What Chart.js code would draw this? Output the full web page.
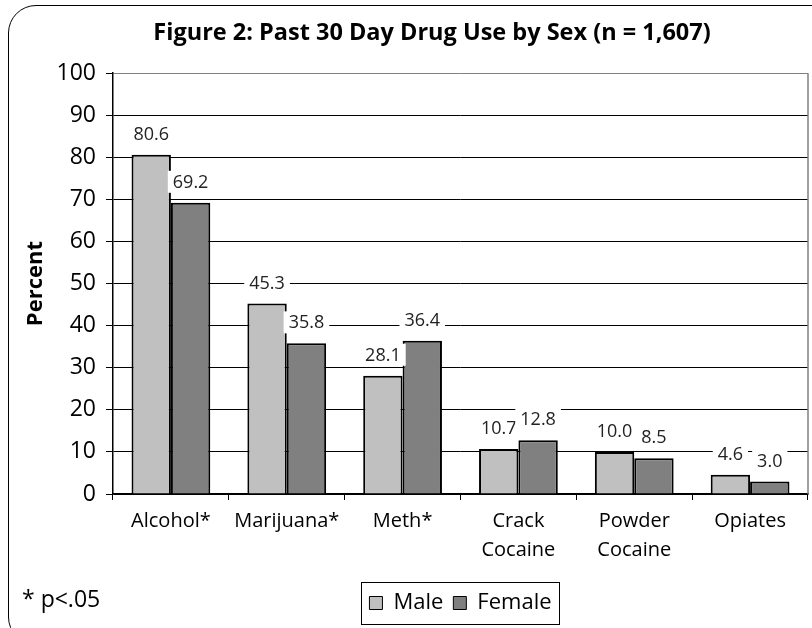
<!DOCTYPE html>
<html>
<head>
<meta charset="utf-8">
<script src="https://cdn.jsdelivr.net/npm/chart.js@4.4.0/dist/chart.umd.min.js"></script>
<style>
html, body { margin: 0; padding: 0; background: #fff; }
#wrap { position: relative; width: 812px; height: 628px; overflow: hidden; }
#frame { position: absolute; left: 8px; top: 5px; width: 840px; height: 640px; border: 1.5px solid #000; border-radius: 28px; box-sizing: border-box; }
#chart { position: absolute; left: 0; top: 0; }
</style>
</head>
<body>
<div id="wrap">
  <div id="frame"></div>
  <canvas id="chart" width="812" height="628"></canvas>
</div>
<script>
// 数据
const categories = ['Alcohol*', 'Marijuana*', 'Meth*', ['Crack', 'Cocaine'], ['Powder', 'Cocaine'], 'Opiates'];
const maleValues = [80.6, 45.3, 28.1, 10.7, 10.0, 4.6];
const femaleValues = [69.2, 35.8, 36.4, 12.8, 8.5, 3.0];
const yMin = 0;
const yMax = 100;
const yStep = 10;
const footnote = '* p<.05';

const FONT = '"Open Sans", "Noto Sans", sans-serif';

// 柱顶数值标签（白底）
const barLabelPlugin = {
    id: 'barLabels',
    afterDatasetsDraw(chart) {
        const ctx = chart.ctx;
        ctx.save();
        ctx.font = '18px ' + FONT;
        ctx.textAlign = 'center';
        ctx.textBaseline = 'middle';
        chart.data.datasets.forEach((ds, i) => {
            chart.getDatasetMeta(i).data.forEach((bar, j) => {
                const txt = ds.data[j].toFixed(1);
                const w = ctx.measureText(txt).width + 10;
                const y = bar.y - 20;
                ctx.fillStyle = '#fff';
                ctx.fillRect(bar.x - w / 2, y - 12, w, 22);
                ctx.fillStyle = '#222';
                ctx.fillText(txt, bar.x, y);
            });
        });
        ctx.restore();
    }
};

// 标题/图例位置微调、绘图区右边框、图例边框、脚注
const framePlugin = {
    id: 'frameBits',
    afterLayout(chart) {
        const ca = chart.chartArea;
        const lg = chart.legend;
        if (lg && ca) {
            lg.left = ca.left;
            lg.right = ca.right;
            lg.width = ca.right - ca.left;
        }
        const tb = chart.titleBlock;
        if (tb && ca) {
            tb.left = 56;
            tb.right = ca.right;
            tb.width = tb.right - tb.left;
        }
    },
    beforeDatasetsDraw(chart) {
        const { ctx, chartArea } = chart;
        ctx.save();
        ctx.strokeStyle = '#808080';
        ctx.lineWidth = 1.5;
        ctx.beginPath();
        ctx.moveTo(chartArea.right, chartArea.top);
        ctx.lineTo(chartArea.right, chartArea.bottom);
        ctx.stroke();
        ctx.restore();
    },
    afterDraw(chart) {
        const ctx = chart.ctx;
        const boxes = chart.legend.legendHitBoxes;
        if (boxes && boxes.length) {
            const left = Math.min(...boxes.map(b => b.left)) - 8;
            const right = Math.max(...boxes.map(b => b.left + b.width)) + 8;
            const top = boxes[0].top - 10;
            const bottom = boxes[0].top + boxes[0].height + 10;
            ctx.save();
            ctx.strokeStyle = '#000';
            ctx.lineWidth = 1;
            ctx.strokeRect(Math.round(left) + 0.5, Math.round(top) + 0.5, Math.round(right - left), Math.round(bottom - top));
            ctx.restore();
        }
        ctx.save();
        ctx.font = '23px ' + FONT;
        ctx.fillStyle = '#000';
        ctx.textBaseline = 'middle';
        ctx.fillText(footnote, 22, 600);
        ctx.restore();
    }
};

new Chart(document.getElementById('chart'), {
    type: 'bar',
    data: {
        labels: categories,
        datasets: [{
            label: 'Male',
            data: maleValues,
            backgroundColor: '#c0c0c0',
            borderColor: '#000',
            borderWidth: 2,
            categoryPercentage: 0.68,
            barPercentage: 1.0
        }, {
            label: 'Female',
            data: femaleValues,
            backgroundColor: '#808080',
            borderColor: '#000',
            borderWidth: 2,
            categoryPercentage: 0.68,
            barPercentage: 1.0
        }]
    },
    options: {
        responsive: false,
        animation: false,
        layout: { padding: { left: 8, right: 4, top: 8, bottom: 4 } },
        plugins: {
            title: {
                display: true,
                text: 'Figure 2: Past 30 Day Drug Use by Sex (n = 1,607)',
                color: '#000',
                font: { family: FONT, size: 23.5, weight: 'bold' },
                padding: { top: 11, bottom: 26 }
            },
            legend: {
                position: 'bottom',
                labels: {
                    color: '#000',
                    font: { family: FONT, size: 22 },
                    boxWidth: 13,
                    boxHeight: 13,
                    padding: 10,
                    generateLabels(chart) {
                        const items = Chart.defaults.plugins.legend.labels.generateLabels(chart);
                        items.forEach(it => { it.lineWidth = 1; it.strokeStyle = '#000'; });
                        return items;
                    }
                }
            },
            tooltip: { enabled: false }
        },
        scales: {
            x: {
                afterFit(scale) { scale.height = 88; },
                grid: { offset: true, drawOnChartArea: false, tickLength: 6, color: '#000' },
                border: { color: '#000', width: 1.5 },
                ticks: {
                    color: '#000',
                    font: { family: FONT, size: 20, lineHeight: 1.45 },
                    maxRotation: 0,
                    autoSkip: false,
                    padding: 7
                }
            },
            y: {
                min: yMin,
                max: yMax,
                afterFit(scale) { scale.width = 105; },
                grid: {
                    color: ctx => (ctx.tick && ctx.tick.value === yMax) ? '#808080' : '#000',
                    lineWidth: 1,
                    tickLength: 7,
                    tickColor: '#000'
                },
                border: { color: '#000', width: 1.5 },
                ticks: {
                    stepSize: yStep,
                    color: '#000',
                    font: { family: FONT, size: 23 },
                    padding: 10
                },
                title: {
                    display: true,
                    text: 'Percent',
                    color: '#000',
                    font: { family: FONT, size: 22, weight: 'bold' },
                    padding: { top: 15, bottom: 0 }
                }
            }
        }
    },
    plugins: [barLabelPlugin, framePlugin]
});
</script>
</body>
</html>
